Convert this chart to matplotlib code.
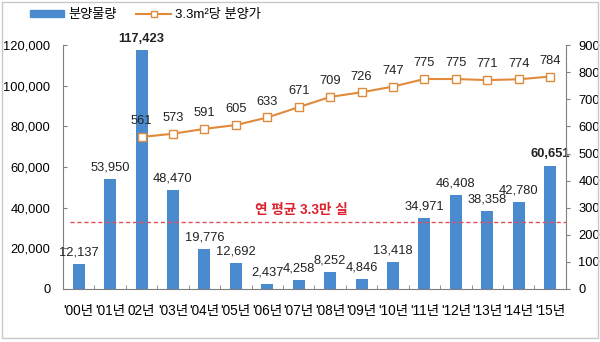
import matplotlib
matplotlib.use("Agg")
import matplotlib.pyplot as plt
from matplotlib.patches import Rectangle
from matplotlib.lines import Line2D
import numpy as np

plt.rcParams['font.family'] = ['Liberation Sans', 'Noto Sans CJK KR']

# 연도별 분양물량과 3.3㎡당 분양가
years = ["'00년", "'01년", "02년", "'03년", "'04년", "'05년", "'06년", "'07년",
         "'08년", "'09년", "'10년", "'11년", "'12년", "'13년", "'14년", "'15년"]
supply = [12137, 53950, 117423, 48470, 19776, 12692, 2437, 4258,
          8252, 4846, 13418, 34971, 46408, 38358, 42780, 60651]
price_start = 2  # 분양가는 '02년부터
price = [561, 573, 591, 605, 633, 671, 709, 726, 747, 775, 775, 771, 774, 784]
avg_supply = 33000
bold_labels = [117423, 60651]

bar_color = '#4A8BD0'
line_color = '#E08A3C'
axis_color = '#7f7f7f'

fig = plt.figure(figsize=(6, 3.42), dpi=100)
ax = fig.add_axes([0.105, 0.155, 0.838, 0.713])
x = np.arange(len(years))

ax.bar(x, supply, width=0.38, color=bar_color, zorder=2)
for xi, v in zip(x, supply):
    ax.annotate(f"{v:,}", (xi, v), xytext=(0, 4), textcoords='offset points',
                ha='center', va='bottom', fontsize=9.3,
                fontweight='bold' if v in bold_labels else 'normal', color='#222222')

ax.set_xlim(-0.5, len(years) - 0.5)
ax.set_ylim(0, 120000)
ax.set_yticks(np.arange(0, 120001, 20000))
ax.set_yticklabels([f"{t:,}" for t in range(0, 120001, 20000)], fontsize=9.3)
ax.set_xticks(x)
ax.set_xticklabels(years, fontsize=9.8)
ax.tick_params(axis='x', length=0, pad=11)
ax.set_xticks(np.arange(-0.5, len(years)), minor=True)
ax.tick_params(axis='x', which='minor', direction='in', length=3, color=axis_color)
ax.tick_params(axis='y', direction='in', length=3, color=axis_color, pad=9)
for s in ['top', 'right']:
    ax.spines[s].set_visible(False)
for s in ['left', 'bottom']:
    ax.spines[s].set_color(axis_color)

# 연 평균 기준선
ax.axhline(avg_supply, xmin=0.014, xmax=1, color='#E0505A', linestyle=(0, (3, 2)),
           linewidth=1, zorder=3)
ax.text(7.1, 39000, "연 평균 3.3만 실", color='#E0202E', fontsize=9.8,
        fontweight='bold', ha='center', va='center')

ax2 = ax.twinx()
px = x[price_start:]
ax2.plot(px, price, color=line_color, linewidth=1.5, marker='s', markersize=6,
         markerfacecolor='white', markeredgecolor=line_color, markeredgewidth=1, zorder=4)
for xi, v in zip(px, price):
    ax2.annotate(f"{v}", (xi, v), xytext=(0, 7), textcoords='offset points',
                 ha='center', va='bottom', fontsize=9.3, color='#222222')
ax2.set_ylim(0, 900)
ax2.set_yticks(np.arange(0, 901, 100))
ax2.tick_params(axis='y', direction='out', length=3, color=axis_color,
                labelsize=9.3, pad=6)
for s in ['top', 'left', 'bottom']:
    ax2.spines[s].set_visible(False)
ax2.spines['right'].set_color(axis_color)

handles = [Rectangle((0, 0), 1, 1, color=bar_color),
           Line2D([], [], color=line_color, marker='s', markersize=5,
                  markerfacecolor='white', markeredgecolor=line_color)]
fig.legend(handles, ["분양물량", "3.3m²당 분양가"], loc='center left',
           bbox_to_anchor=(0.03, 0.955), ncol=2, frameon=False, fontsize=9.5,
           handlelength=2.6, handleheight=0.5, columnspacing=1.5, handletextpad=0.3)

# 바깥 테두리
fig.patches.append(Rectangle((0.004, 0.012), 0.992, 0.982, transform=fig.transFigure,
                             fill=False, edgecolor='#c8c8c8', linewidth=1))

fig.savefig('out.png', dpi=100)
